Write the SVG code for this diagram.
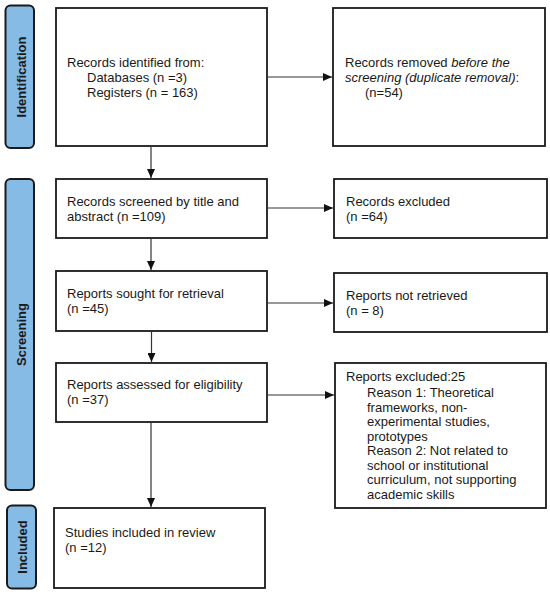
<svg xmlns="http://www.w3.org/2000/svg" width="550" height="594" viewBox="0 0 550 594">
<defs>
<marker id="ah" markerWidth="9" markerHeight="8" refX="9" refY="4" orient="auto" markerUnits="userSpaceOnUse">
<path d="M0,0 L9,4 L0,8 Z" fill="#111"/>
</marker>
<style>
.box{fill:#fff;stroke:#1a1a1a;stroke-width:1.8}
.bar{fill:#86bbe6;stroke:#1a1a1a;stroke-width:2}
.t{font-family:"Liberation Sans",Arial,sans-serif;font-size:13px;fill:#1a1a1a}
.lbl{font-family:"Liberation Sans",Arial,sans-serif;font-size:13px;font-weight:bold;fill:#1a1a1a;text-anchor:middle}
.c{stroke:#333;stroke-width:1.2;fill:none}
</style>
</defs>
<rect width="550" height="594" fill="#fff"/>
<g id="bar-identification"><rect class="bar" x="5.5" y="5.5" width="28.5" height="142.5" rx="5"/><text class="lbl" transform="translate(25.5,77) rotate(-90)">Identification</text></g>
<g id="bar-screening"><rect class="bar" x="5.5" y="179" width="28.5" height="311" rx="5"/><text class="lbl" transform="translate(25.5,334.5) rotate(-90)">Screening</text></g>
<g id="bar-included"><rect class="bar" x="7" y="505.5" width="29" height="83" rx="5"/><text class="lbl" transform="translate(26.5,547) rotate(-90)">Included</text></g>
<g id="n-identified"><rect class="box" x="56" y="8" width="211" height="138"/><text class="t" x="67" y="67">Records identified from:</text><text class="t" x="87" y="82">Databases (n =3)</text><text class="t" x="87" y="97">Registers (n = 163)</text></g>
<g id="n-removed"><rect class="box" x="333" y="8" width="212" height="138"/><text class="t" x="345" y="67">Records removed <tspan font-style="italic">before the</tspan></text><text class="t" x="345" y="82"><tspan font-style="italic">screening (duplicate removal)</tspan>:</text><text class="t" x="365" y="97">(n=54)</text></g>
<g id="n-screened"><rect class="box" x="56" y="179" width="211" height="59"/><text class="t" x="67" y="206">Records screened by title and</text><text class="t" x="67" y="221">abstract (n =109)</text></g>
<g id="n-excluded"><rect class="box" x="334" y="179" width="213" height="59"/><text class="t" x="346" y="206">Records excluded</text><text class="t" x="346" y="221">(n =64)</text></g>
<g id="n-sought"><rect class="box" x="56" y="271" width="211" height="60"/><text class="t" x="67" y="298">Reports sought for retrieval</text><text class="t" x="67" y="313">(n =45)</text></g>
<g id="n-notretrieved"><rect class="box" x="334" y="273" width="213" height="59"/><text class="t" x="346" y="300">Reports not retrieved</text><text class="t" x="346" y="315">(n = 8)</text></g>
<g id="n-assessed"><rect class="box" x="56" y="363" width="211" height="59"/><text class="t" x="67" y="389">Reports assessed for eligibility</text><text class="t" x="67" y="404">(n =37)</text></g>
<g id="n-reportsexcluded"><rect class="box" x="335" y="363" width="211" height="145"/><text class="t" x="346" y="381">Reports excluded:25</text><text class="t" x="367" y="397">Reason 1: Theoretical</text><text class="t" x="367" y="411.5">frameworks, non-</text><text class="t" x="367" y="426">experimental studies,</text><text class="t" x="367" y="440.5">prototypes</text><text class="t" x="367" y="455">Reason 2: Not related to</text><text class="t" x="367" y="469.5">school or institutional</text><text class="t" x="367" y="484">curriculum, not supporting</text><text class="t" x="367" y="498.5">academic skills</text></g>
<g id="n-included"><rect class="box" x="54" y="508" width="211" height="80"/><text class="t" x="65" y="537">Studies included in review</text><text class="t" x="65" y="552">(n =12)</text></g>
<g id="connectors">
<line class="c" x1="267" y1="77" x2="332" y2="77" marker-end="url(#ah)"/>
<line class="c" x1="151" y1="146" x2="151" y2="178" marker-end="url(#ah)"/>
<line class="c" x1="267" y1="208" x2="333" y2="208" marker-end="url(#ah)"/>
<line class="c" x1="151" y1="238" x2="151" y2="270" marker-end="url(#ah)"/>
<line class="c" x1="267" y1="303" x2="333" y2="303" marker-end="url(#ah)"/>
<line class="c" x1="151.5" y1="331" x2="151.5" y2="362" marker-end="url(#ah)"/>
<line class="c" x1="267" y1="395" x2="334" y2="395" marker-end="url(#ah)"/>
<line class="c" x1="151" y1="422" x2="151" y2="507" marker-end="url(#ah)"/>
</g>
</svg>
